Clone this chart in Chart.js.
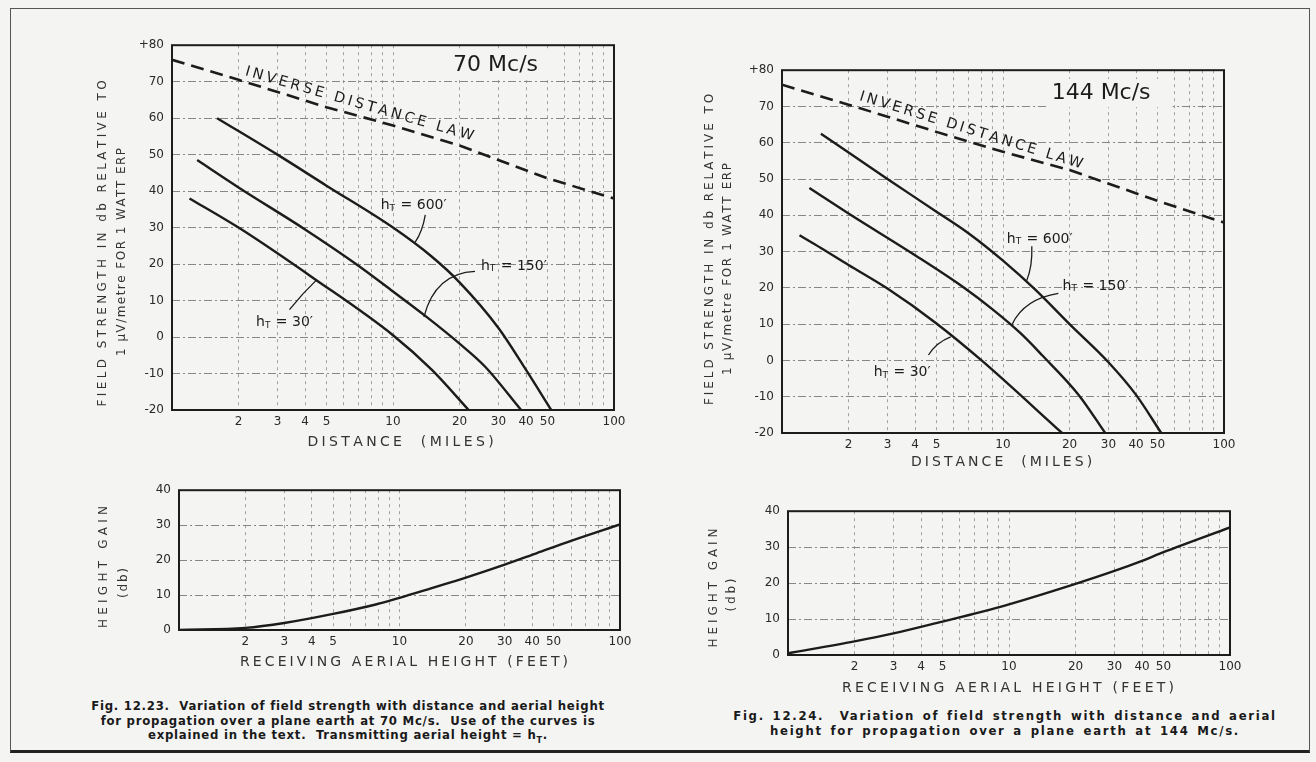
<!DOCTYPE html>
<html>
<head>
<meta charset="utf-8">
<script src="https://cdn.jsdelivr.net/npm/chart.js@4.4.1/dist/chart.umd.min.js"></script>
<style>
  body { margin: 0; background: #f4f4f2; width: 1316px; height: 762px; overflow: hidden; position: relative; }
  #frame { position: absolute; left: 10px; top: 8px; width: 1298px; height: 741px; border: 1px solid #555; border-bottom: 3px solid #222; }
  canvas { position: absolute; }
  .cap { position: absolute; text-align: center; color: #1a1a1a; font-family: "DejaVu Sans Condensed", "DejaVu Sans", sans-serif; font-weight: bold; font-size: 13px; line-height: 14.5px; white-space: nowrap; }
</style>
</head>
<body>
<div id="frame"></div>
<canvas id="c70" width="560" height="432" style="left:80px;top:30px"></canvas>
<canvas id="c144" width="560" height="430" style="left:690px;top:55px"></canvas>
<canvas id="g70" width="560" height="210" style="left:80px;top:475px"></canvas>
<canvas id="g144" width="560" height="210" style="left:690px;top:496px"></canvas>

<div class="cap" style="left:18px;top:699px;width:660px;letter-spacing:0.75px">
  Fig. 12.23.&nbsp; Variation of field strength with distance and aerial height<br>
  for propagation over a plane earth at 70 Mc/s.&nbsp; Use of the curves is<br>
  explained in the text.&nbsp; Transmitting aerial height = h<sub style="font-size:9px">T</sub>.
</div>
<div class="cap" style="left:670px;top:709px;width:670px;letter-spacing:1.7px;word-spacing:2px">
  Fig. 12.24.&nbsp; Variation of field strength with distance and aerial<br>
  height for propagation over a plane earth at 144 Mc/s.
</div>

<script>
// axes
const xGrid = [1, 2, 3, 4, 5, 6, 7, 8, 9, 10, 20, 30, 40, 50, 60, 70, 80, 90, 100];
const xTickLabels = [2, 3, 4, 5, 10, 20, 30, 40, 50, 100];
const fieldTicks = [-20, -10, 0, 10, 20, 30, 40, 50, 60, 70, 80];
const gainTicks = [0, 10, 20, 30, 40];

// 70 Mc/s field strength (distance in miles, db)
const lawDist = [1, 2, 5, 10, 20, 50, 100];
const law70 = [76, 70.5, 63, 58, 52.5, 43.5, 38];
const h600Dist70 = [1.6, 3, 5, 10, 15, 20, 30, 40, 52];
const h600Db70 = [60, 50, 41.5, 30, 22, 15, 2.5, -9, -20];
const h150Dist70 = [1.3, 2, 4, 7, 10, 14, 20, 26, 38];
const h150Db70 = [48.5, 41, 29.5, 19.5, 12.5, 5.8, -1.8, -8, -20];
const h30Dist70 = [1.2, 2, 4.4, 10, 15, 22];
const h30Db70 = [38, 30, 16, 0.5, -9, -20];

// 144 Mc/s field strength
const law144 = [76, 70.5, 63, 57.5, 52.5, 44, 38];
const h600Dist144 = [1.5, 3, 5, 7, 10, 14, 20, 30, 40, 52];
const h600Db144 = [62.5, 50, 41, 35, 27.5, 19.5, 10, -0.5, -9.5, -20];
const h150Dist144 = [1.33, 2, 4, 6.5, 9, 12, 15, 22, 29];
const h150Db144 = [47.5, 40.5, 29, 20.5, 14, 7.5, 1.5, -9.5, -20];
const h30Dist144 = [1.2, 1.5, 2, 3, 5, 8, 18.5];
const h30Db144 = [34.5, 31, 26.3, 19.8, 10.2, 0, -20];

// height gain (receiving aerial height in feet, db)
const gainHeight70 = [1, 2, 3, 5, 7.8, 10, 14, 20, 30, 42, 60, 100];
const gainDb70 = [0, 0.6, 2, 4.6, 7.3, 9.2, 12, 15, 18.7, 22, 25.5, 30.2];
const gainHeight144 = [1, 2, 3, 5, 7.5, 10, 20, 30, 40, 50, 100];
const gainDb144 = [0.5, 3.8, 6, 9.3, 12, 14.1, 19.8, 23.4, 26.2, 28.6, 35.5];

const ink = '#1c1c1c';
const face = "'DejaVu Sans', sans-serif";

function pts(xs, ys) { return xs.map((x, i) => ({ x: x, y: ys[i] })); }

function series(xs, ys, dashed) {
  return {
    data: pts(xs, ys),
    borderColor: ink,
    borderWidth: dashed ? 2.6 : 2.4,
    borderDash: dashed ? [13, 7] : [],
    pointRadius: 0,
    tension: dashed ? 0 : 0.3,
    cubicInterpolationMode: dashed ? 'default' : 'monotone',
    fill: false
  };
}

// letters spread to fill a given length, optionally rotated
function spaced(ctx, text, cx, cy, width, angle) {
  ctx.save();
  ctx.translate(cx, cy);
  ctx.rotate(angle || 0);
  ctx.textAlign = 'left';
  ctx.textBaseline = 'middle';
  const w = ctx.measureText(text).width;
  const gap = text.length > 1 ? (width - w) / (text.length - 1) : 0;
  let x = -width / 2;
  for (const ch of text) {
    ctx.fillText(ch, x, 0);
    x += ctx.measureText(ch).width + gap;
  }
  ctx.restore();
}

function drawHT(ctx, x, y, val) {
  ctx.textAlign = 'left';
  ctx.textBaseline = 'middle';
  ctx.font = '14px ' + face;
  ctx.fillText('h', x, y);
  const w1 = ctx.measureText('h').width;
  ctx.font = '9px ' + face;
  ctx.fillText('T', x + w1, y + 3);
  const w2 = ctx.measureText('T').width;
  ctx.font = '14px ' + face;
  ctx.fillText(' = ' + val + '\u2032', x + w1 + w2 + 1, y);
}

const decor = {
  id: 'decor',
  beforeDatasetsDraw(chart, args, o) {
    if (!o.freq) return;
    const ctx = chart.ctx, sx = chart.scales.x, sy = chart.scales.y;
    const x = sx.getPixelForValue(o.freq.x), y = sy.getPixelForValue(o.freq.y);
    ctx.save();
    ctx.fillStyle = '#f4f4f2';
    ctx.fillRect(x - 4, y - 14, o.freq.w, 28);
    ctx.restore();
  },
  afterDraw(chart, args, o) {
    const ctx = chart.ctx, a = chart.chartArea;
    const sx = chart.scales.x, sy = chart.scales.y;
    const P = (x, y) => [sx.getPixelForValue(x), sy.getPixelForValue(y)];
    ctx.save();
    ctx.strokeStyle = ink;
    ctx.fillStyle = ink;
    ctx.lineWidth = 2;
    ctx.strokeRect(a.left, a.top, a.right - a.left, a.bottom - a.top);

    (o.titles || []).forEach(t => {
      ctx.font = t.size + 'px ' + face;
      ctx.fillStyle = '#333';
      spaced(ctx, t.text, t.x, t.y, t.w, t.rot ? -Math.PI / 2 : 0);
    });
    ctx.fillStyle = ink;

    if (o.law) {
      const p1 = P(o.law.x1, o.law.y1), p2 = P(o.law.x2, o.law.y2);
      const ang = Math.atan2(p2[1] - p1[1], p2[0] - p1[0]);
      const len = Math.hypot(p2[0] - p1[0], p2[1] - p1[1]);
      ctx.font = '14.5px ' + face;
      spaced(ctx, o.law.text, (p1[0] + p2[0]) / 2, (p1[1] + p2[1]) / 2, len, ang);
    }
    if (o.freq) {
      const p = P(o.freq.x, o.freq.y);
      ctx.font = '22px ' + face;
      ctx.textAlign = 'left';
      ctx.textBaseline = 'middle';
      ctx.fillText(o.freq.text, p[0], p[1]);
    }
    (o.heights || []).forEach(h => {
      const p = P(h.x, h.y);
      drawHT(ctx, p[0], p[1], h.val);
      const s = P(h.lead[0], h.lead[1]), c = P(h.lead[2], h.lead[3]), e = P(h.lead[4], h.lead[5]);
      ctx.lineWidth = 1.3;
      ctx.beginPath();
      ctx.moveTo(s[0], s[1]);
      ctx.quadraticCurveTo(c[0], c[1], e[0], e[1]);
      ctx.stroke();
    });
    ctx.restore();
  }
};

function scaleX(height) {
  return {
    type: 'logarithmic', min: 1, max: 100,
    afterBuildTicks: s => { s.ticks = xGrid.map(v => ({ value: v })); },
    afterFit: s => { s.height = height; },
    ticks: {
      autoSkip: false, maxRotation: 0, padding: 5, color: '#2a2a2a',
      font: { family: face, size: 12 },
      callback: v => xTickLabels.includes(v) ? String(v) : ''
    },
    grid: { color: '#8c8c8c', lineWidth: 0.8, drawTicks: false },
    border: { display: false, dash: [3, 4] }
  };
}

function scaleY(min, max, ticks, width) {
  return {
    min: min, max: max,
    afterBuildTicks: s => { s.ticks = ticks.map(v => ({ value: v })); },
    afterFit: s => { s.width = width; },
    ticks: {
      padding: 8, color: '#2a2a2a',
      font: { family: face, size: 12 },
      callback: v => v === 80 ? '+80' : String(v)
    },
    grid: { color: '#7a7a7a', lineWidth: 0.9, drawTicks: false },
    border: { display: false, dash: [8, 3, 2, 3] }
  };
}

function makeChart(id, datasets, y, pad, decorOpts) {
  return new Chart(document.getElementById(id), {
    type: 'line',
    data: { datasets: datasets },
    options: {
      responsive: false,
      animation: false,
      devicePixelRatio: 1,
      layout: { padding: pad },
      plugins: { legend: { display: false }, tooltip: { enabled: false }, decor: decorOpts },
      scales: { x: scaleX(y.xHeight), y: scaleY(y.min, y.max, y.ticks, y.width) }
    },
    plugins: [decor]
  });
}

const fieldTitle1 = 'FIELD STRENGTH IN db RELATIVE TO';
const fieldTitle2 = '1 \u00b5V/metre FOR 1 WATT ERP';
const lawText = 'INVERSE DISTANCE LAW';

makeChart('c70', [
  series(lawDist, law70, true),
  series(h600Dist70, h600Db70),
  series(h150Dist70, h150Db70),
  series(h30Dist70, h30Db70)
], { min: -20, max: 80, ticks: fieldTicks, width: 92, xHeight: 52 },
{ top: 15, right: 26, left: 0, bottom: 0 }, {
  titles: [
    { text: fieldTitle1, x: 23, y: 214, w: 325, size: 12, rot: true },
    { text: fieldTitle2, x: 42, y: 223, w: 206, size: 12, rot: true },
    { text: 'DISTANCE  (MILES)', x: 320, y: 412, w: 185, size: 14 }
  ],
  law: { text: lawText, x1: 2.15, y1: 72.8, x2: 22.7, y2: 55 },
  freq: { text: '70 Mc/s', x: 18.7, y: 74.6, w: 110 },
  heights: [
    { val: 600, x: 8.8, y: 36, lead: [14, 33.5, 13.6, 29, 12.6, 26] },
    { val: 150, x: 25, y: 19.5, lead: [23.5, 18, 15.5, 17.5, 13.8, 5.5] },
    { val: 30, x: 2.4, y: 4, lead: [3.4, 7.5, 3.9, 12, 4.5, 15.6] }
  ]
});

makeChart('c144', [
  series(lawDist, law144, true),
  series(h600Dist144, h600Db144),
  series(h150Dist144, h150Db144),
  series(h30Dist144, h30Db144)
], { min: -20, max: 80, ticks: fieldTicks, width: 92, xHeight: 52 },
{ top: 15, right: 26, left: 0, bottom: 0 }, {
  titles: [
    { text: fieldTitle1, x: 20, y: 195, w: 310, size: 12, rot: true },
    { text: fieldTitle2, x: 38, y: 215, w: 210, size: 12, rot: true },
    { text: 'DISTANCE  (MILES)', x: 311, y: 407, w: 180, size: 14 }
  ],
  law: { text: lawText, x1: 2.25, y1: 72.8, x2: 22.5, y2: 54 },
  freq: { text: '144 Mc/s', x: 16.6, y: 73.7, w: 125 },
  heights: [
    { val: 600, x: 10.4, y: 33.5, lead: [13.5, 31.5, 13.6, 26, 12.8, 22] },
    { val: 150, x: 18.6, y: 20.5, lead: [17.8, 18.5, 12.5, 17, 11, 10] },
    { val: 30, x: 2.6, y: -3.3, lead: [4.6, 1.5, 5.0, 5.0, 5.8, 6.5] }
  ]
});

makeChart('g70', [series(gainHeight70, gainDb70)],
  { min: 0, max: 40, ticks: gainTicks, width: 99, xHeight: 55 },
  { top: 15, right: 20, left: 0, bottom: 0 }, {
  titles: [
    { text: 'HEIGHT GAIN', x: 24, y: 92, w: 122, size: 12, rot: true },
    { text: '(db)', x: 44, y: 108, w: 30, size: 12, rot: true },
    { text: 'RECEIVING AERIAL HEIGHT (FEET)', x: 324, y: 187, w: 328, size: 14 }
  ]
});

makeChart('g144', [series(gainHeight144, gainDb144)],
  { min: 0, max: 40, ticks: gainTicks, width: 98, xHeight: 51 },
  { top: 15, right: 20, left: 0, bottom: 0 }, {
  titles: [
    { text: 'HEIGHT GAIN', x: 24, y: 92, w: 119, size: 12, rot: true },
    { text: '(db)', x: 42, y: 99, w: 33, size: 12, rot: true },
    { text: 'RECEIVING AERIAL HEIGHT (FEET)', x: 318, y: 192, w: 332, size: 14 }
  ]
});
</script>
</body>
</html>
